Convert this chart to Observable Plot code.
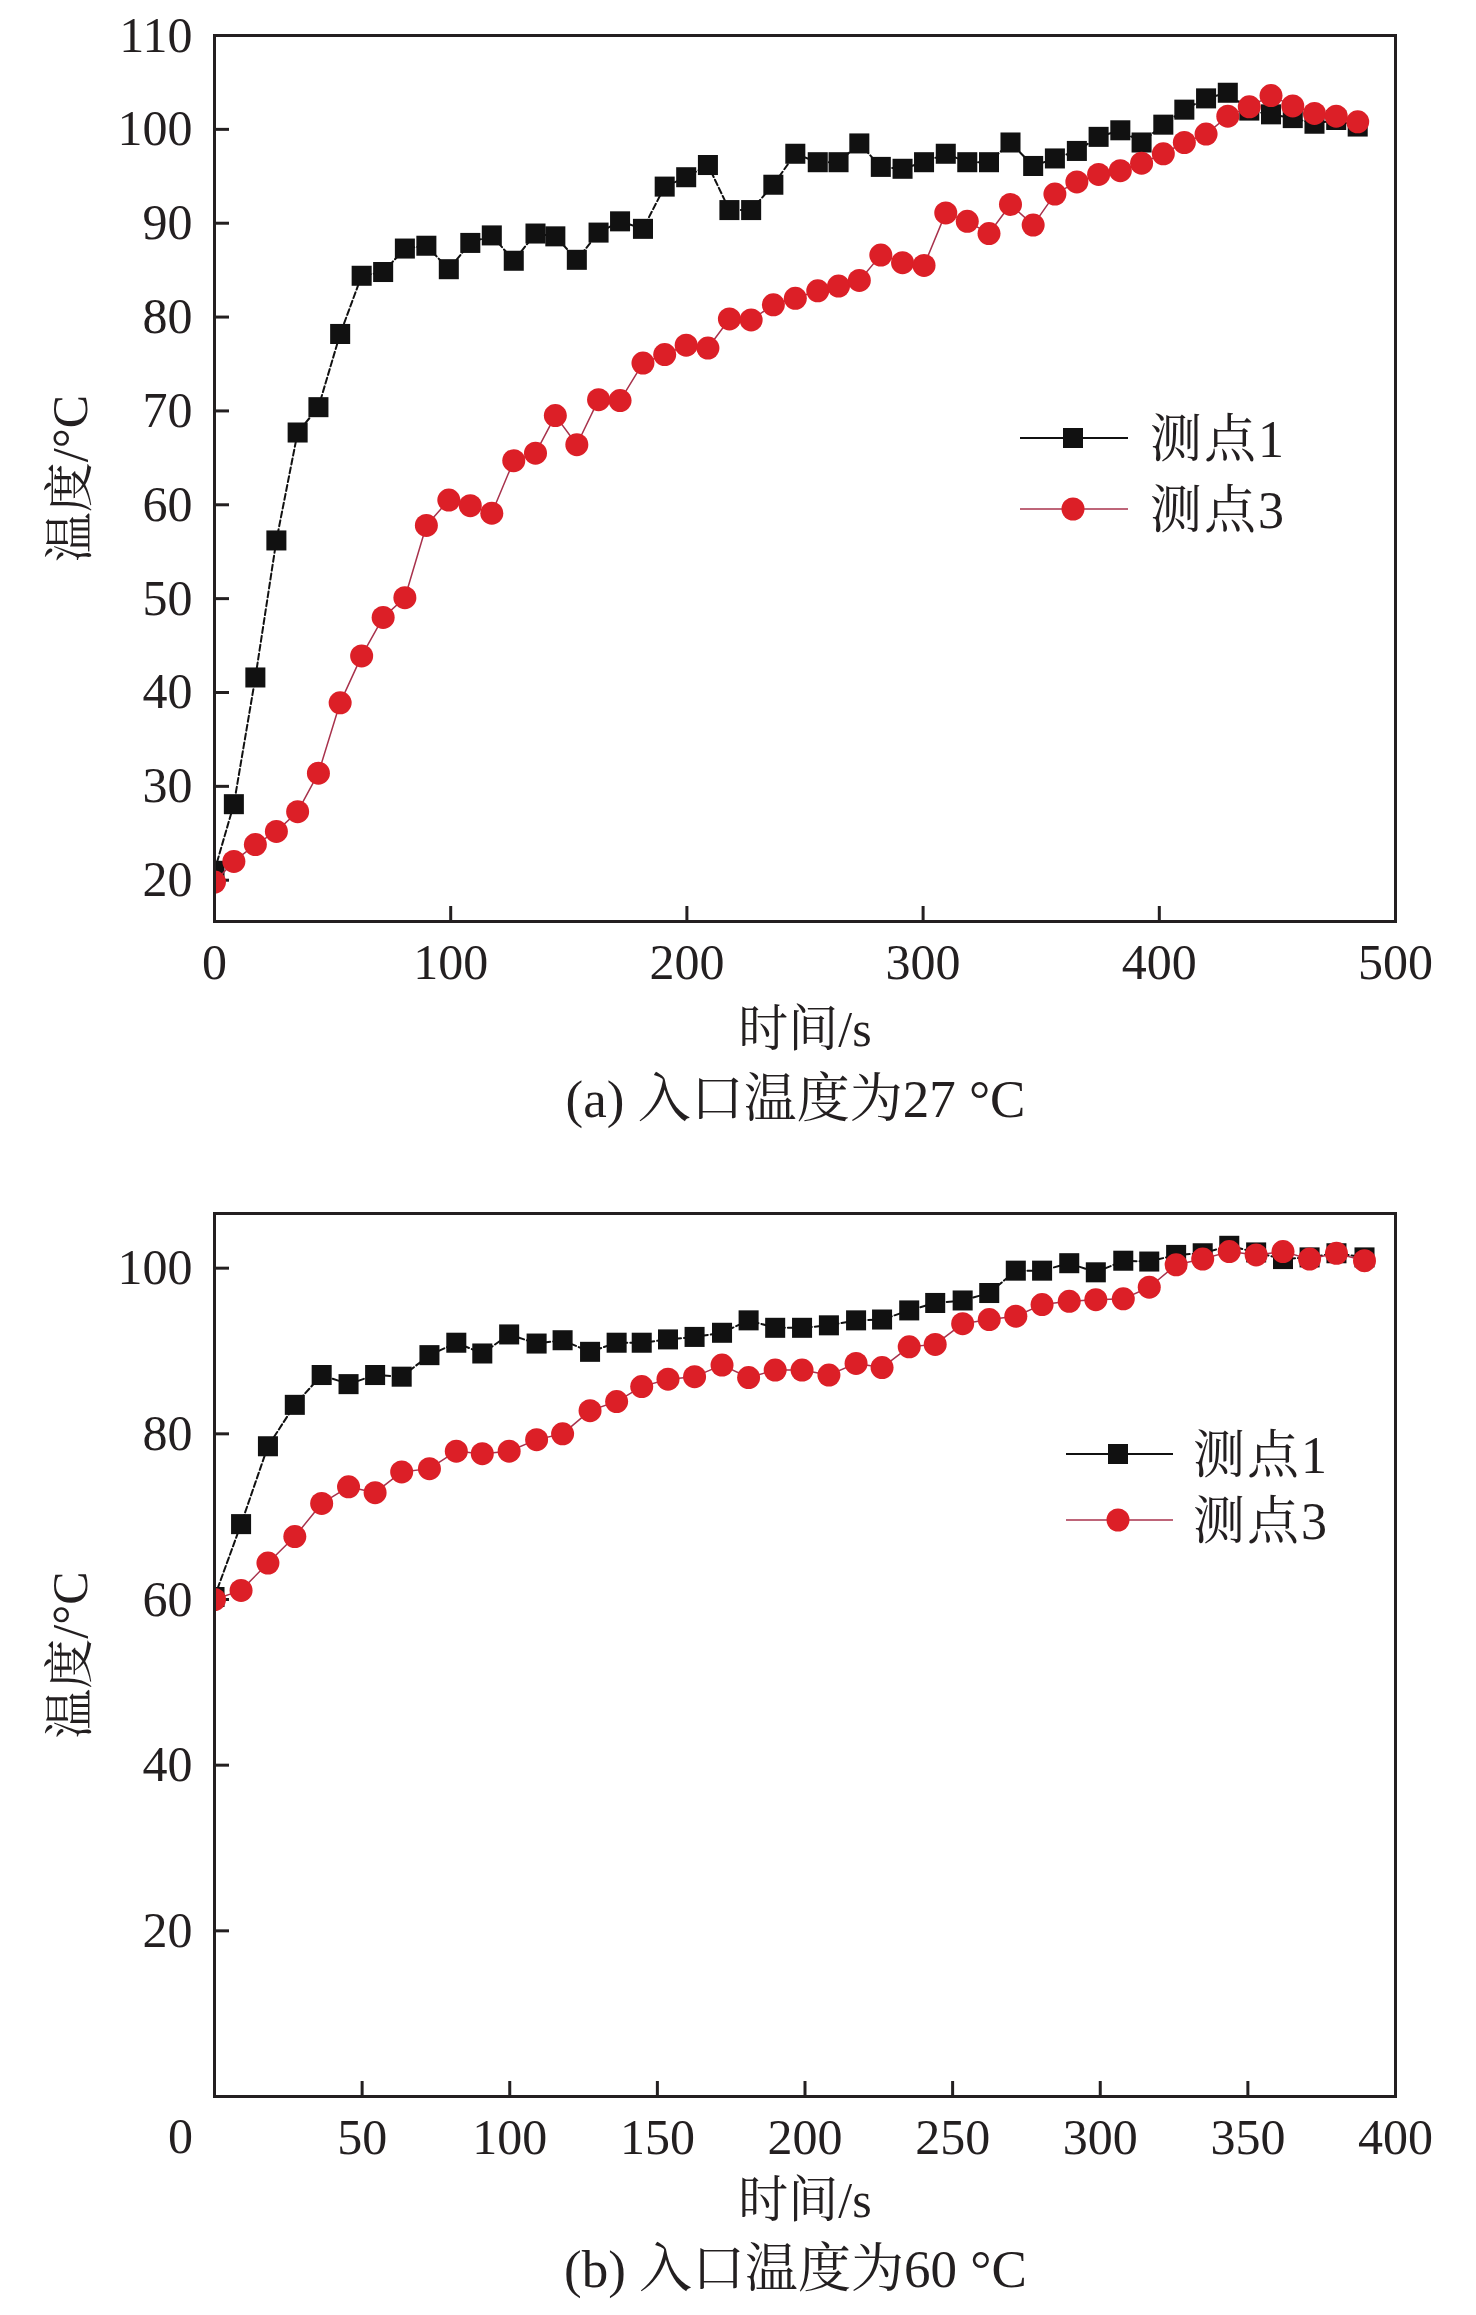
<!DOCTYPE html>
<html><head><meta charset="utf-8">
<script src="https://cdn.jsdelivr.net/npm/d3@7"></script>
<script src="https://cdn.jsdelivr.net/npm/@observablehq/plot@0.6"></script>
<style>
body{margin:0;background:#fff;}
#page{position:relative;width:1476px;height:2315px;font-family:'Liberation Serif','Noto Serif CJK SC','Noto Sans CJK SC',serif;color:#231f20;overflow:hidden;}
.chart{position:absolute;left:0;}
.cap{position:absolute;left:205px;width:1181px;text-align:center;font-size:53px;line-height:53px;white-space:pre;}
#legend{position:absolute;left:0;top:0;}
</style></head><body><div id="page"></div>
<script>
// ---- (a) inlet temperature 27 °C ----
const timeA = [0, 8.2, 17.3, 26.2, 35.2, 44.0, 53.2, 62.3, 71.4, 80.6, 89.7, 99.2, 108.3, 117.4, 126.7, 135.9, 144.3, 153.4, 162.6, 171.7, 181.4, 190.6, 199.7, 208.9, 218.0, 227.2, 236.6, 245.9, 255.4, 264.2, 273.0, 282.1, 291.3, 300.4, 309.6, 318.7, 327.9, 337.0, 346.6, 355.8, 365.1, 374.3, 383.5, 392.5, 401.7, 410.6, 419.8, 429.0, 438.1, 447.3, 456.5, 465.7, 474.9, 484.0];
const probe1A = [21.0, 28.1, 41.6, 56.2, 67.7, 70.4, 78.2, 84.4, 84.8, 87.3, 87.6, 85.1, 87.9, 88.7, 86.0, 88.9, 88.6, 86.1, 89.0, 90.2, 89.4, 93.9, 94.9, 96.2, 91.4, 91.4, 94.1, 97.4, 96.5, 96.5, 98.5, 96.0, 95.8, 96.5, 97.4, 96.5, 96.5, 98.6, 96.1, 96.9, 97.7, 99.2, 99.9, 98.6, 100.5, 102.1, 103.3, 103.9, 102.0, 101.6, 101.2, 100.6, 101.0, 100.3];
const probe3A = [19.8, 22.0, 23.8, 25.2, 27.3, 31.4, 38.9, 43.9, 48.0, 50.1, 57.8, 60.5, 59.9, 59.1, 64.7, 65.5, 69.5, 66.4, 71.2, 71.1, 75.1, 76.0, 77.0, 76.7, 79.8, 79.7, 81.3, 82.0, 82.8, 83.3, 83.9, 86.6, 85.8, 85.5, 91.1, 90.2, 88.9, 92.0, 89.8, 93.1, 94.4, 95.2, 95.6, 96.4, 97.4, 98.6, 99.5, 101.4, 102.4, 103.6, 102.5, 101.7, 101.4, 100.8];
const xTicksA = [0, 100, 200, 300, 400, 500];
const yTicksA = [20, 30, 40, 50, 60, 70, 80, 90, 100, 110];

// ---- (b) inlet temperature 60 °C ----
const timeB = [0, 9.0, 18.1, 27.2, 36.3, 45.4, 54.4, 63.4, 72.8, 81.9, 90.7, 99.8, 109.1, 117.9, 127.2, 136.2, 144.7, 153.6, 162.6, 171.9, 180.9, 189.9, 199.0, 208.1, 217.3, 226.1, 235.3, 244.1, 253.4, 262.4, 271.4, 280.3, 289.5, 298.5, 307.8, 316.6, 325.7, 334.7, 343.7, 352.8, 361.9, 370.9, 380.0, 389.5];
const probe1B = [60.3, 69.1, 78.5, 83.5, 87.1, 86.0, 87.1, 86.9, 89.5, 91.0, 89.7, 92.0, 90.9, 91.3, 89.9, 91.0, 91.0, 91.4, 91.7, 92.2, 93.7, 92.8, 92.8, 93.1, 93.7, 93.8, 94.9, 95.8, 96.1, 97.0, 99.7, 99.7, 100.6, 99.5, 100.9, 100.8, 101.6, 101.8, 102.7, 101.9, 101.1, 101.3, 101.8, 101.3];
const probe3B = [60.0, 61.1, 64.4, 67.6, 71.6, 73.6, 72.9, 75.4, 75.8, 77.9, 77.6, 77.9, 79.3, 80.0, 82.8, 83.9, 85.7, 86.6, 86.9, 88.3, 86.8, 87.7, 87.7, 87.1, 88.5, 88.0, 90.5, 90.8, 93.3, 93.8, 94.2, 95.6, 96.0, 96.2, 96.3, 97.7, 100.4, 101.1, 102.0, 101.6, 102.0, 101.1, 101.8, 100.9];
const xTicksB = [50, 100, 150, 200, 250, 300, 350, 400];
const xOriginLabelB = [0];
const yTicksB = [20, 40, 60, 80, 100];

const seriesNames = ["测点1", "测点3"];
const captions = ["(a) 入口温度为27 °C", "(b) 入口温度为60 °C"];
const xLabel = "时间/s";
const yLabel = "温度/°C";

const ink = "#231f20";
const black = "#111111";
const red = "#dc1f27";
const redLine = "#a8324c";
const font = "'Liberation Serif','Noto Serif CJK SC','Noto Sans CJK SC',serif";

function rows(t, v) { return t.map((x, i) => ({t: x, v: v[i]})); }

function chart({time, s1, s3, xDomain, yDomain, xTicks, yTicks, height, marginTop, marginBottom, xLabelOffset, extra = []}) {
  const d1 = rows(time, s1), d3r = rows(time, s3);
  return Plot.plot({
    width: 1476, height,
    marginLeft: 214, marginRight: 81, marginTop, marginBottom,
    x: {domain: xDomain},
    y: {domain: yDomain},
    style: {fontFamily: font, fontSize: "50px", color: ink, background: "transparent", overflow: "visible"},
    marks: [
      Plot.axisY(yTicks, {anchor: "left", tickSize: 0, tickPadding: 22, fontSize: 50, label: yLabel, labelAnchor: "center", labelArrow: "none", labelOffset: 163}),
      Plot.axisY(yTicks, {anchor: "left", tickSize: -15, strokeWidth: 3, tickFormat: () => "", label: null}),
      Plot.axisX(xTicks, {anchor: "bottom", tickSize: 0, tickPadding: 22, fontSize: 50, label: xLabel, labelAnchor: "center", labelArrow: "none", labelOffset: xLabelOffset}),
      Plot.axisX(xTicks, {anchor: "bottom", tickSize: -15, strokeWidth: 3, tickFormat: () => "", label: null}),
      ...extra,
      Plot.line(d1, {x: "t", y: "v", stroke: black, strokeWidth: 2, strokeDasharray: "6 3", clip: true}),
      Plot.dot(d1, {x: "t", y: "v", symbol: "square", r: 11.3, fill: black, stroke: null, clip: true}),
      Plot.line(d3r, {x: "t", y: "v", stroke: redLine, strokeWidth: 1.5, clip: true}),
      Plot.dot(d3r, {x: "t", y: "v", symbol: "circle", r: 11.5, fill: red, stroke: null, clip: true}),
      Plot.frame({stroke: ink, strokeWidth: 3})
    ]
  });
}

const page = document.getElementById("page");

const svgA = chart({time: timeA, s1: probe1A, s3: probe3A, xDomain: [0, 500], yDomain: [15.6, 110],
  xTicks: xTicksA, yTicks: yTicksA, height: 1060, marginTop: 35, marginBottom: 139, xLabelOffset: 124});
svgA.classList.add("chart"); svgA.style.top = "0px";
page.appendChild(svgA);

const svgB = chart({time: timeB, s1: probe1B, s3: probe3B, xDomain: [0, 400], yDomain: [0, 106.6],
  xTicks: xTicksB, yTicks: yTicksB, height: 1090, marginTop: 63, marginBottom: 144, xLabelOffset: 120,
  extra: [Plot.text(xOriginLabelB, {x: d => d, y: () => 0, text: d => String(d), dx: -34, dy: 40, fontSize: 50, fill: ink})]});
svgB.classList.add("chart"); svgB.style.top = "1150px";
page.appendChild(svgB);

[[captions[0], 1073], [captions[1], 2243]].forEach(([txt, top]) => {
  const d = document.createElement("div");
  d.className = "cap"; d.style.top = top + "px"; d.textContent = txt;
  page.appendChild(d);
});

// legends (overlay)
const leg = d3.create("svg").attr("id", "legend").attr("width", 1476).attr("height", 2315)
  .style("font-family", font).style("font-size", "52px");
function legend(x0, x1, xm, xt, ys) {
  const g = leg.append("g");
  g.append("line").attr("x1", x0).attr("x2", x1).attr("y1", ys[0]).attr("y2", ys[0]).attr("stroke", black).attr("stroke-width", 2);
  g.append("rect").attr("x", xm - 10).attr("y", ys[0] - 10).attr("width", 20).attr("height", 20).attr("fill", black);
  g.append("text").attr("x", xt).attr("y", ys[0]).attr("dy", "0.36em").attr("fill", ink).attr("letter-spacing", "2px").text(seriesNames[0]);
  g.append("line").attr("x1", x0).attr("x2", x1).attr("y1", ys[1]).attr("y2", ys[1]).attr("stroke", redLine).attr("stroke-width", 1.5);
  g.append("circle").attr("cx", xm).attr("cy", ys[1]).attr("r", 11.5).attr("fill", red);
  g.append("text").attr("x", xt).attr("y", ys[1]).attr("dy", "0.36em").attr("fill", ink).attr("letter-spacing", "2px").text(seriesNames[1]);
}
legend(1020, 1128, 1073, 1150, [438, 509]);
legend(1066, 1173, 1118, 1193, [1454, 1520]);
page.appendChild(leg.node());
</script></body></html>
